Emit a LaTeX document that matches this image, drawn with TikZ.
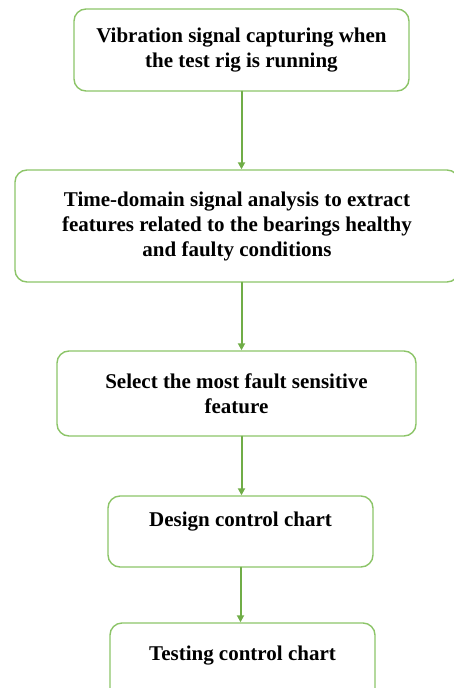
\documentclass[tikz,border=0pt]{standalone}
\usepackage{fontspec}
\setmainfont{Liberation Serif}
\usetikzlibrary{arrows.meta,positioning}
\definecolor{boxgreen}{RGB}{140,196,104}
\definecolor{arrowgreen}{RGB}{112,173,71}

\begin{document}
\begin{tikzpicture}[x=1pt, y=-1pt, >={Triangle[length=7pt,width=7pt]}, line cap=round, line join=round,
  stepbox/.style={draw=boxgreen, line width=1.4pt, rounded corners=12pt, align=center, inner sep=0pt,
    font=\fontsize{21}{25}\selectfont\bfseries}]
\useasboundingbox (0,0) rectangle (454,688);

\node[stepbox, minimum width=335pt, minimum height=82pt] (capture) at (241.5,50) {Vibration signal capturing when\\the test rig is running};
\node[stepbox, minimum width=444pt, minimum height=112pt] (analysis) at (237,226) {Time-domain signal analysis to extract\\features related to the bearings healthy\\and faulty conditions};
\node[stepbox, minimum width=359pt, minimum height=85pt] (select) at (236.5,393.5) {Select the most fault sensitive\\feature};
\node[stepbox, minimum width=265pt, minimum height=71pt] (design) at (240.5,531.5) {Design control chart\\~};
\node[stepbox, minimum width=265pt, minimum height=85pt] (testing) at (242.5,665.5) {Testing control chart\\~};
\draw[->, line width=2pt, arrowgreen] (capture.south) -- (capture.south |- analysis.north);
\draw[->, line width=2pt, arrowgreen] (analysis.south -| capture.south) -- (select.north -| capture.south);
\draw[->, line width=2pt, arrowgreen] (select.south -| capture.south) -- (design.north -| capture.south);
\draw[->, line width=2pt, arrowgreen] (design.south) -- (design.south |- testing.north);

\end{tikzpicture}
\end{document}
